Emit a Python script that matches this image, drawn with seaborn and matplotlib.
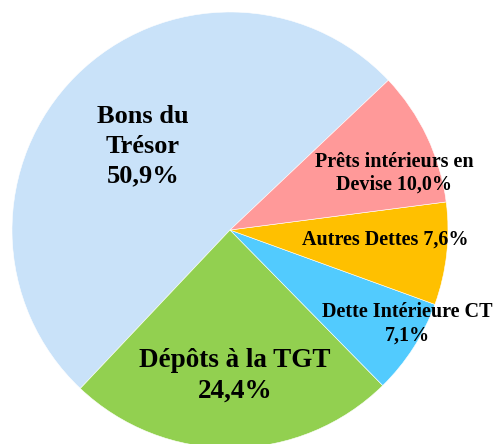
import matplotlib
matplotlib.use("Agg")
import matplotlib.pyplot as plt
import seaborn as sns

# data (counter-clockwise order, starting at upper right)
categories = ["Bons du\nTrésor", "Dépôts à la TGT", "Dette Intérieure CT",
              "Autres Dettes", "Prêts intérieurs en\nDevise"]
shares = [50.9, 24.4, 7.1, 7.6, 10.0]
separators = ["\n", "\n", "\n", " ", " "]
colors = ["#C9E2F9", "#92D050", "#52CBFE", "#FFC000", "#FF9999"]

sns.set_style("white")
plt.rcParams["font.family"] = ["Liberation Serif", "DejaVu Serif"]

fig = plt.figure(figsize=(4.96, 4.44), dpi=100)
ax = fig.add_axes([12 / 496, -4 / 444, 436 / 496, 436 / 444])

wedges, _ = ax.pie(shares, colors=colors, startangle=43.4, counterclock=True,
                   radius=1, wedgeprops=dict(edgecolor="white", linewidth=0.4))
ax.set_xlim(-1, 1)
ax.set_ylim(-1, 1)
ax.set_aspect("equal")
ax.axis("off")

# label positions and sizes
label_pos = [(-0.40, 0.385), (0.023, -0.67), (0.812, -0.43), (0.711, -0.046), (0.752, 0.26)]
label_size = [19, 19.5, 14.5, 14.5, 14.5]
label_spacing = [1.38, 1.32, 1.2, 1.2, 1.2]

for name, val, sep, pos, fs, ls in zip(categories, shares, separators,
                                       label_pos, label_size, label_spacing):
    txt = f"{name}{sep}{val:.1f}%".replace(".", ",")
    ax.text(pos[0], pos[1], txt, ha="center", va="center", fontsize=fs,
            fontweight="bold", linespacing=ls, color="black")

fig.savefig("out.png", dpi=100)
